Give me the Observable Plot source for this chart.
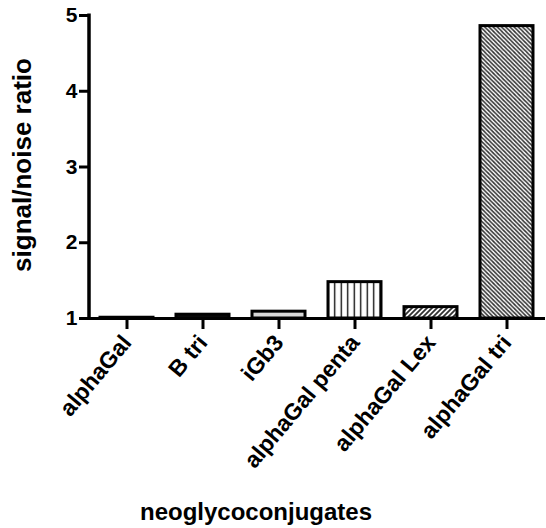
<!DOCTYPE html>
<html>
<head>
<meta charset="utf-8">
<script src="https://cdn.jsdelivr.net/npm/d3@7"></script>
<script src="https://cdn.jsdelivr.net/npm/@observablehq/plot@0.6"></script>
<style>
  html, body { margin: 0; padding: 0; background: #fff; }
  #chart svg { display: block; }
</style>
</head>
<body>
<div id="chart"></div>
<script>
// ---- data ----
const categories = ["alphaGal", "B tri", "iGb3", "alphaGal penta", "alphaGal Lex", "alphaGal tri"];
const ratios = [1.01, 1.05, 1.09, 1.48, 1.15, 4.86];
const yTicks = [1, 2, 3, 4, 5];
const xTitle = "neoglycoconjugates";
const yTitle = "signal/noise ratio";

// ---- styles (pattern per category) ----
const patternFor = {
  "alphaGal": "#ffffff",
  "B tri": "url(#pat-dense)",
  "iGb3": "url(#pat-light)",
  "alphaGal penta": "url(#pat-vert)",
  "alphaGal Lex": "url(#pat-fwd)",
  "alphaGal tri": "url(#pat-back)"
};

const data = categories.map((c, i) => ({cat: c, v: ratios[i], fill: patternFor[c]}));

const font = "'Liberation Sans', Arial, sans-serif";

const plot = Plot.plot({
  width: 546,
  height: 528,
  marginLeft: 89,
  marginRight: 1,
  marginTop: 15,
  marginBottom: 210,
  style: {fontFamily: font, fontWeight: "bold", color: "#000", background: "#fff"},
  x: {domain: categories, paddingInner: 0.3, paddingOuter: 0.15, label: null},
  y: {domain: [1, 5], label: null},
  color: {type: "identity"},
  marks: [
    Plot.barY(data, {x: "cat", y1: 1, y2: "v", fill: "fill", stroke: "#000", strokeWidth: 3}),
    Plot.axisY({ticks: yTicks, tickSize: 10, tickPadding: 2, fontSize: 21, strokeWidth: 3, tickFormat: d3.format("d")}),
    Plot.axisX({tickSize: 11, tickRotate: -50, tickPadding: 9, fontSize: 23, strokeWidth: 3}),
    Plot.ruleY([1], {stroke: "#000", strokeWidth: 3})
  ]
});

const sx = plot.scale("x"), sy = plot.scale("y");
const svg = d3.select(plot);
const defs = svg.insert("defs", ":first-child");
function pat(id, size, draw) {
  const p = defs.append("pattern").attr("id", id).attr("patternUnits", "userSpaceOnUse")
    .attr("width", size).attr("height", size);
  p.append("rect").attr("width", size).attr("height", size).attr("fill", "#fff");
  draw(p, size);
}
pat("pat-dense", 3, (p, s) => p.append("rect").attr("width", s).attr("height", s).attr("fill", "#111"));
pat("pat-light", 4, (p, s) => p.append("rect").attr("width", s).attr("height", s).attr("fill", "#d8d8d8"));
pat("pat-vert", 6.5, (p, s) => p.append("line").attr("x1", s / 2).attr("x2", s / 2).attr("y1", 0).attr("y2", s).attr("stroke", "#000").attr("stroke-width", 1.3));
pat("pat-fwd", 5, (p, s) => {
  p.append("path").attr("d", `M0,${s} L${s},0 M${-s / 2},${s / 2} L${s / 2},${-s / 2} M${s / 2},${s * 1.5} L${s * 1.5},${s / 2}`)
    .attr("stroke", "#333").attr("stroke-width", 1.8);
});
pat("pat-back", 4.2, (p, s) => {
  p.append("path").attr("d", `M0,0 L${s},${s} M${-s / 2},${s / 2} L${s / 2},${s * 1.5} M${s / 2},${-s / 2} L${s * 1.5},${s / 2}`)
    .attr("stroke", "#333").attr("stroke-width", 1.6);
});

// y axis line
const [r0] = sx.range;
svg.append("line").attr("x1", r0).attr("x2", r0).attr("y1", sy.apply(5) - 1.5).attr("y2", sy.apply(1) + 1.5)
  .attr("stroke", "#000").attr("stroke-width", 3.5);

// titles
svg.append("text").attr("x", 256).attr("y", 520).attr("text-anchor", "middle")
  .attr("font-family", font).attr("font-weight", "bold").attr("font-size", 24).text(xTitle);
svg.append("text").attr("transform", `translate(31,${165}) rotate(-90)`).attr("text-anchor", "middle")
  .attr("font-family", font).attr("font-weight", "bold").attr("font-size", 26).text(yTitle);

document.getElementById("chart").appendChild(plot);
</script>
</body>
</html>
